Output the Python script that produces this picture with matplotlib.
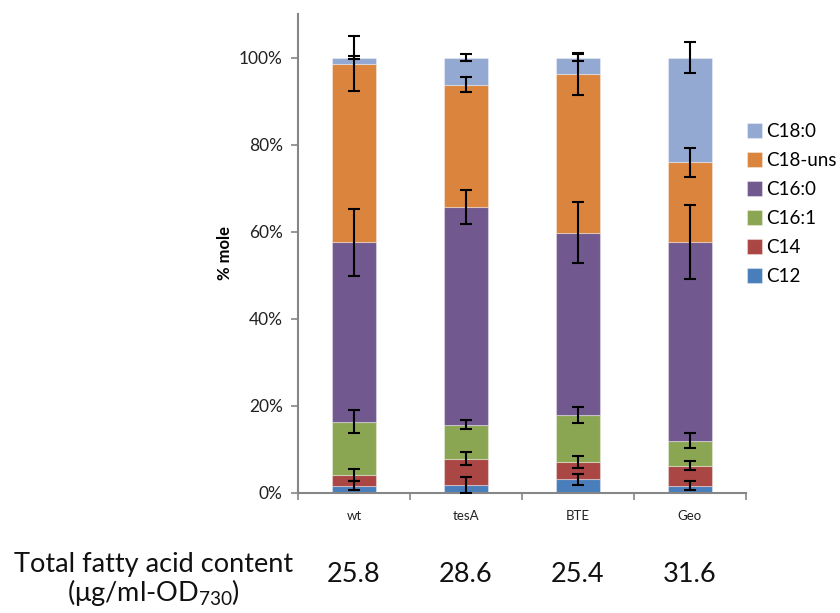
import matplotlib
matplotlib.use("Agg")
import matplotlib.pyplot as plt
import numpy as np

plt.rcParams['font.family'] = ['Lato', 'DejaVu Sans']
plt.rcParams['mathtext.default'] = 'regular'

strains = ["wt", "tesA", "BTE", "Geo"]
total_fa = ["25.8", "28.6", "25.4", "31.6"]

species = ["C12", "C14", "C16:1", "C16:0", "C18-uns", "C18:0"]
colors = ["#4A7EBB", "#AA4643", "#8BA653", "#71588F", "#DB843D", "#93A9D1"]

# mole % per fatty-acid species (rows follow `species`, columns follow `strains`)
c12 = [1.7, 1.9, 3.1, 1.7]
c14 = [2.4, 6.0, 4.0, 4.6]
c16_1 = [12.3, 7.8, 10.8, 5.7]
c16_0 = [41.2, 50.0, 41.9, 45.7]
c18_uns = [41.0, 28.1, 36.5, 18.2]
c18_0 = [1.4, 6.2, 3.7, 24.1]

# standard deviations
c12_err = [1.1, 1.8, 1.3, 1.0]
c14_err = [1.3, 1.5, 1.3, 1.0]
c16_1_err = [2.6, 1.1, 1.9, 1.7]
c16_0_err = [7.7, 3.9, 7.0, 8.5]
c18_uns_err = [6.4, 1.7, 4.8, 3.4]
c18_0_err = [0.4, 0.7, 0.7, 3.6]

values = [c12, c14, c16_1, c16_0, c18_uns, c18_0]
errors = [c12_err, c14_err, c16_1_err, c16_0_err, c18_uns_err, c18_0_err]

fig = plt.figure(figsize=(8.4, 6.13), dpi=100)
ax = fig.add_axes([0.3548, 0.1958, 0.888 - 0.3548, 0.7814])

x = np.arange(len(strains))
bar_w = 0.4
bottom = np.zeros(len(strains))
handles = []
for name, col, vals in zip(species, colors, values):
    v = np.array(vals) / 100.0
    h = ax.bar(x, v, bar_w, bottom=bottom, color=col, label=name,
               edgecolor=(1, 1, 1, 0.35), linewidth=0.8, zorder=2)
    handles.append(h)
    bottom = bottom + v

# error bars sit on the top of each stacked segment
bottom = np.zeros(len(strains))
for vals, errs in zip(values, errors):
    top = bottom + np.array(vals) / 100.0
    ax.errorbar(x, top, yerr=np.array(errs) / 100.0, fmt='none',
                ecolor='black', elinewidth=1.5, capsize=4.5, capthick=1.5,
                zorder=3)
    bottom = top

ax.set_xlim(-0.5, len(strains) - 0.5)
ax.set_ylim(0, 1.1)
ticks = np.arange(0, 1.01, 0.2)
ax.set_yticks(ticks)
ax.set_yticklabels([f"{int(round(t * 100))}%" for t in ticks],
                   fontsize=12.5, color='#222222')
ax.set_xticks(x)
ax.set_xticklabels(strains, fontsize=9.5, color='#222222')
ax.set_xticks(np.arange(-0.5, len(strains)), minor=True)
ax.tick_params(axis='x', which='major', length=0, pad=12)
ax.tick_params(axis='x', which='minor', length=5, width=1.2, color='#868686',
               direction='out')
ax.tick_params(axis='y', length=5, width=1.2, color='#868686', direction='out',
               pad=6)

for s in ['top', 'right']:
    ax.spines[s].set_visible(False)
for s in ['left', 'bottom']:
    ax.spines[s].set_color('#868686')
    ax.spines[s].set_linewidth(1.5)

ax.set_ylabel("% mole", fontsize=12, fontweight='bold', labelpad=4)

leg = fig.legend(handles[::-1], species[::-1], loc='center left',
                 bbox_to_anchor=(0.889, 0.667), frameon=False, fontsize=13.5,
                 handlelength=0.8, handleheight=0.8, handletextpad=0.25,
                 labelspacing=0.64, borderaxespad=0, borderpad=0)

# total fatty-acid content row underneath the bars
fig.text(0.183, 0.079, "Total fatty acid content", fontsize=19.5,
         ha='center', va='center', color='#111111')
fig.text(0.183, 0.033, "(μg/ml-OD$_{730}$)", fontsize=19.5, ha='center',
         va='center', color='#111111')
for xi, txt in zip(x, total_fa):
    ax.text(xi, -0.188, txt, fontsize=19.5, ha='center', va='center',
            color='#111111', clip_on=False)

fig.savefig("out.png", dpi=100)
